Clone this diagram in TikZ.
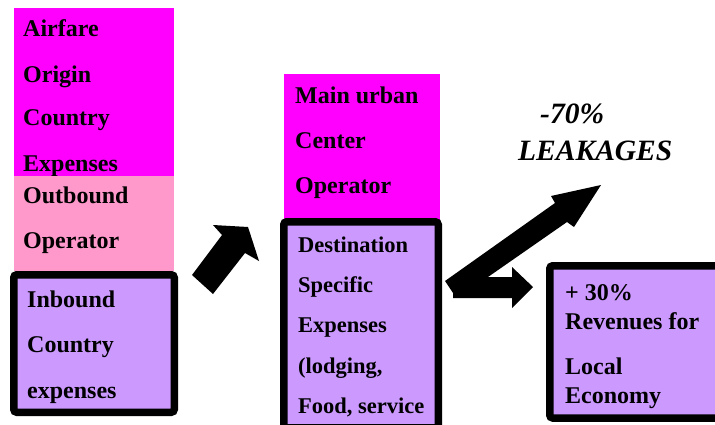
\documentclass[tikz,border=0pt]{standalone}
\usepackage{fontspec}
\setmainfont{Liberation Serif}
\definecolor{magbox}{HTML}{FF00FF}
\definecolor{pinkbox}{HTML}{FF99CC}
\definecolor{lavbox}{HTML}{CC99FF}
\tikzset{
  lbl/.style={anchor=base west, inner sep=0pt, font=\fontsize{24}{24}\selectfont\bfseries},
  sml/.style={lbl, font=\fontsize{22.5}{22.5}\selectfont\bfseries},
  lk/.style={lbl, font=\fontsize{29.5}{29.5}\selectfont\bfseries\itshape},
  flat/.style={anchor=north west, inner sep=0pt, outer sep=0pt},
  thickbox/.style={flat, draw=black, line width=7.5pt, fill=lavbox, rounded corners=3pt},
}
\begin{document}
\begin{tikzpicture}[x=1pt, y=-1pt]
\useasboundingbox (0,0) rectangle (715,424);
% origin side
\node[flat, fill=magbox, minimum width=160pt, minimum height=168pt] (air) at (14,8){};
\node[lbl] (air1) at (23,36){Airfare};
\node[lbl] (air2) at (23,82){Origin};
\node[lbl] (air3) at (23,125){Country};
\node[lbl] (air4) at (23,171){Expenses};
\node[flat, fill=pinkbox, minimum width=160pt, minimum height=95pt] (outb) at (14,176){};
\node[lbl] (outb1) at (23,203){Outbound};
\node[lbl] (outb2) at (23,248){Operator};
\node[thickbox, minimum width=160.5pt, minimum height=137.5pt] (inb) at (13.75,274.75){};
\node[lbl] (inb1) at (27,307){Inbound};
\node[lbl] (inb2) at (27,352){Country};
\node[lbl] (inb3) at (27,398){expenses};
% destination side
\node[flat, fill=magbox, minimum width=156pt, minimum height=146pt] (urb) at (284,74){};
\node[lbl] (urb1) at (295,103){Main urban};
\node[lbl] (urb2) at (295,148){Center};
\node[lbl] (urb3) at (295,193){Operator};
\node[thickbox, minimum width=154.5pt, minimum height=206pt] (dest) at (283.75,221.75){};
\node[sml] (dest1) at (298,252){Destination};
\node[sml] (dest2) at (298,292){Specific};
\node[sml] (dest3) at (298,332){Expenses};
\node[sml] (dest4) at (298,373){(lodging,};
\node[sml] (dest5) at (298,413){Food, service};
% local economy
\node[thickbox, minimum width=190pt, minimum height=152.25pt] (loc) at (549.75,265.75){};
\node[lbl] (loc1) at (565,300){+ 30\%};
\node[lbl] (loc2) at (565,329){Revenues for};
\node[lbl] (loc3) at (565,374){Local};
\node[lbl] (loc4) at (565,403){Economy};
% block arrows
\fill[black] (192,275) -- (222,235) -- (213,225) -- (248,227) -- (259,261)
  -- (245,253) -- (213,294) -- cycle;
\fill[black] (445,281) -- (555,203) -- (551,196) -- (601,185) -- (574,227)
  -- (567,222) -- (488,277) -- (512,277) -- (512,267) -- (533,287)
  -- (512,308) -- (512,298) -- (453,298) -- (453,293) -- cycle;
\node[lk] (leak1) at (540,123){-70\%};
\node[lk] (leak2) at (518,160){LEAKAGES};
\end{tikzpicture}
\end{document}
